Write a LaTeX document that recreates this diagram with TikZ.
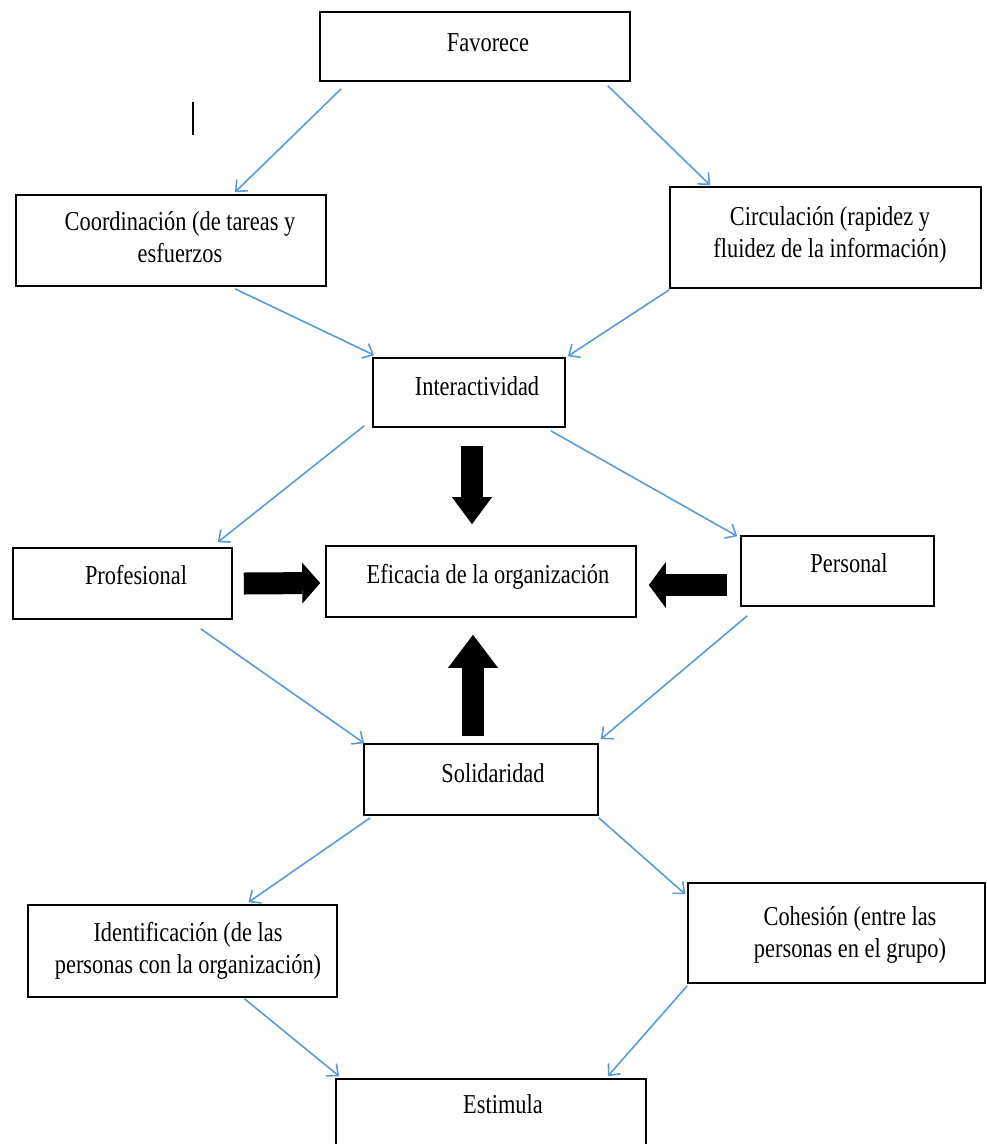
\documentclass[tikz,border=0pt]{standalone}
\usepackage{fontspec}
\setmainfont[FakeStretch=0.82]{Liberation Serif}
\usepackage{xcolor}
\usepackage{tikz}
\usetikzlibrary{arrows.meta}

\definecolor{linkblue}{RGB}{91,155,213}

\tikzset{
	box/.style={draw, line width=1.6pt, inner sep=0pt},
	lbl/.style={anchor=base, align=center, inner sep=0pt, font=\fontsize{27.3}{31.5}\selectfont},
	link/.style={draw=linkblue, line width=1.6pt, -{Straight Barb[length=9pt,width=16pt]}},
	fat/.style 2 args={line width=22pt, -{Triangle[length=#1,width=#2,line width=0pt]}}
}

\begin{document}
\begin{tikzpicture}[x=1pt, y=-1pt]
		\useasboundingbox (0,0) rectangle (987,1144);
		% boxes
		\node[box, minimum width=310, minimum height=69] (fav) at (475,46.5) {};
		\node[box, minimum width=310, minimum height=91] (coord) at (171,240.5) {};
		\node[box, minimum width=311, minimum height=101] (circ) at (825.5,237.5) {};
		\node[box, minimum width=192, minimum height=69] (inter) at (469,392.5) {};
		\node[box, minimum width=219, minimum height=71] (prof) at (122.5,583.5) {};
		\node[box, minimum width=310, minimum height=71] (efi) at (481,581.5) {};
		\node[box, minimum width=193, minimum height=70] (pers) at (837.5,571) {};
		\node[box, minimum width=234, minimum height=71] (sol) at (481,779.5) {};
		\node[box, minimum width=309, minimum height=92] (ident) at (182.5,951) {};
		\node[box, minimum width=297, minimum height=100] (coh) at (836.5,933) {};
		\node[box, minimum width=310, minimum height=81] (est) at (491,1119.5) {};
		% texts (two-line labels sit on their last baseline)
		\node[lbl] (favt) at (488,51) {Favorece};
		\node[lbl] (coordt) at (180,262) {Coordinación (de tareas y\\esfuerzos};
		\node[lbl] (circt) at (830,257) {Circulación (rapidez y\\fluidez de la información)};
		\node[lbl] (intert) at (477,395) {Interactividad};
		\node[lbl] (proft) at (136,584) {Profesional};
		\node[lbl] (efit) at (488,583) {Eficacia de la organización};
		\node[lbl] (perst) at (849,572) {Personal};
		\node[lbl] (solt) at (493,782) {Solidaridad};
		\node[lbl] (identt) at (188,973) {Identificación (de las\\personas con la organización)};
		\node[lbl] (coht) at (850,957) {Cohesión (entre las\\personas en el grupo)};
		\node[lbl] (estt) at (503,1113) {Estimula};
		% blue links
		\draw[link] ([shift={(22,7)}]fav.south west) -- ([shift={(64,-2)}]coord.north);
		\draw[link] ([shift={(-23,4)}]fav.south east) -- ([shift={(41,-1)}]circ.north west);
		\draw[link] ([shift={(64,2)}]coord.south) -- ([shift={(2,-2)}]inter.north west);
		\draw[link] ([shift={(0,1)}]circ.south west) -- ([shift={(2,-1)}]inter.north east);
		\draw[link] ([shift={(-8,-2)}]inter.south west) -- ([shift={(-15,-5)}]prof.north east);
		\draw[link] ([shift={(-15,3)}]inter.south east) -- ([shift={(-3,1)}]pers.north west);
		\draw[link] ([shift={(-32,9)}]prof.south east) -- ([shift={(1,0)}]sol.north west);
		\draw[link] ([shift={(7,9)}]pers.south west) -- ([shift={(2,-4)}]sol.north east);
		\draw[link] ([shift={(7,2)}]sol.south west) -- ([shift={(66,-2)}]ident.north);
		\draw[link] ([shift={(0,2)}]sol.south east) -- ([shift={(-2,12)}]coh.north west);
		\draw[link] ([shift={(62,1)}]ident.south) -- ([shift={(4,-2)}]est.north west);
		\draw[link] ([shift={(0,2)}]coh.south west) -- ([shift={(-39,-2)}]est.north east);
		% black arrows into the centre
		\draw[fat={27pt}{40pt}] ([shift={(3,18)}]inter.south) -- ([shift={(-9,-21)}]efi.north);
		\draw[fat={18pt}{41pt}] ([shift={(11,0)}]prof.east) -- ([shift={(-5,1.5)}]efi.west);
		\draw[fat={17pt}{46pt}] ([shift={(-13,14)}]pers.west) -- ([shift={(12,3.5)}]efi.east);
		\draw[fat={33pt}{50pt}] ([shift={(-8,-7)}]sol.north) -- ([shift={(-8,17)}]efi.south);
		% stray mark
		\draw[line width=1.2pt] (193,102) -- (193,135);
	\end{tikzpicture}
\end{document}
